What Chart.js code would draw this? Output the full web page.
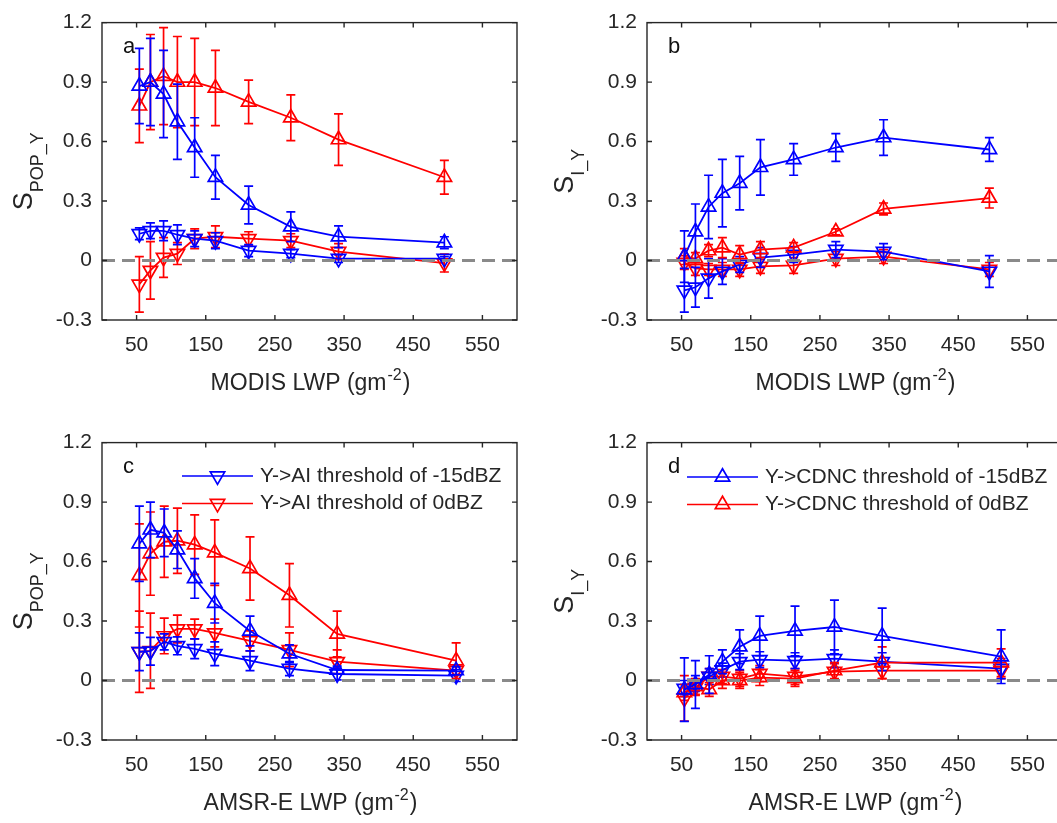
<!DOCTYPE html>
<html>
<head>
<meta charset="utf-8">
<script src="https://cdn.jsdelivr.net/npm/chart.js@4.4.1/dist/chart.umd.min.js"></script>
<style>
html, body { margin: 0; padding: 0; background: #fff; overflow: hidden; }
#wrap { position: relative; width: 1057px; height: 823px; overflow: hidden; }
canvas { position: absolute; }
</style>
</head>
<body>
<div id="wrap">
  <canvas id="pa" width="540" height="410" style="left:0;top:0"></canvas>
  <canvas id="pb" width="540" height="410" style="left:545px;top:0"></canvas>
  <canvas id="pc" width="540" height="410" style="left:0;top:420px"></canvas>
  <canvas id="pd" width="540" height="410" style="left:545px;top:420px"></canvas>
</div>
<script>
// LWP bins (gm-2)
const lwpModis = [54, 70, 89, 109, 134, 164, 212, 273, 342, 495];
const lwpAmsr = [54, 70, 90, 109, 134, 163, 214, 271, 340, 512];
const xTicks = [50, 150, 250, 350, 450, 550];
const yTicks = [-0.3, 0, 0.3, 0.6, 0.9, 1.2];

// a: S_POP_Y vs MODIS LWP
const popModisAi15 = [0.135, 0.15, 0.15, 0.13, 0.11, 0.10, 0.05, 0.035, 0.01, 0.01];
const popModisAi15Err = [0.03, 0.04, 0.05, 0.05, 0.04, 0.04, 0.03, 0.02, 0.02, 0.01];
const popModisAi0 = [-0.12, -0.05, 0.015, 0.035, 0.11, 0.12, 0.11, 0.10, 0.045, -0.013];
const popModisAi0Err = [0.14, 0.145, 0.10, 0.055, 0.05, 0.055, 0.035, 0.035, 0.04, 0.045];
const popModisCdnc15 = [0.88, 0.90, 0.84, 0.70, 0.57, 0.42, 0.28, 0.17, 0.12, 0.09];
const popModisCdnc15Err = [0.19, 0.22, 0.22, 0.19, 0.15, 0.11, 0.095, 0.075, 0.055, 0.03];
const popModisCdnc0 = [0.78, 0.90, 0.93, 0.90, 0.90, 0.87, 0.80, 0.72, 0.61, 0.42];
const popModisCdnc0Err = [0.185, 0.24, 0.245, 0.23, 0.22, 0.19, 0.11, 0.115, 0.13, 0.085];

// b: S_I_Y vs MODIS LWP
const iModisAi15 = [-0.15, -0.135, -0.09, -0.055, -0.02, 0.015, 0.03, 0.055, 0.045, -0.055];
const iModisAi15Err = [0.11, 0.10, 0.10, 0.065, 0.04, 0.05, 0.04, 0.04, 0.04, 0.08];
const iModisAi0 = [-0.01, -0.04, -0.045, -0.045, -0.045, -0.03, -0.025, 0.01, 0.02, -0.045];
const iModisAi0Err = [0.035, 0.035, 0.03, 0.035, 0.035, 0.035, 0.04, 0.035, 0.035, 0.035];
const iModisCdnc15 = [0.02, 0.145, 0.27, 0.34, 0.39, 0.47, 0.51, 0.57, 0.62, 0.56];
const iModisCdnc15Err = [0.13, 0.14, 0.16, 0.17, 0.135, 0.14, 0.08, 0.07, 0.09, 0.06];
const iModisCdnc0 = [0.02, 0.01, 0.05, 0.065, 0.03, 0.055, 0.065, 0.145, 0.26, 0.315];
const iModisCdnc0Err = [0.04, 0.03, 0.03, 0.05, 0.045, 0.04, 0.025, 0.015, 0.03, 0.05];

// c: S_POP_Y vs AMSR-E LWP
const popAmsrAi15 = [0.145, 0.148, 0.195, 0.175, 0.16, 0.135, 0.10, 0.06, 0.033, 0.025];
const popAmsrAi15Err = [0.095, 0.07, 0.04, 0.045, 0.05, 0.06, 0.05, 0.035, 0.03, 0.03];
const popAmsrAi0 = [0.145, 0.15, 0.225, 0.26, 0.26, 0.24, 0.20, 0.155, 0.095, 0.05];
const popAmsrAi0Err = [0.205, 0.19, 0.09, 0.07, 0.05, 0.07, 0.05, 0.085, 0.06, 0.02];
const popAmsrCdnc15 = [0.69, 0.76, 0.745, 0.66, 0.515, 0.39, 0.25, 0.135, 0.053, 0.05];
const popAmsrCdnc15Err = [0.19, 0.14, 0.12, 0.095, 0.10, 0.10, 0.075, 0.045, 0.02, 0.02];
const popAmsrCdnc0 = [0.53, 0.64, 0.70, 0.705, 0.685, 0.645, 0.565, 0.43, 0.235, 0.10];
const popAmsrCdnc0Err = [0.26, 0.21, 0.18, 0.165, 0.15, 0.165, 0.16, 0.16, 0.115, 0.09];

// d: S_I_Y vs AMSR-E LWP
const iAmsrAi15 = [-0.04, -0.015, 0.02, 0.053, 0.095, 0.105, 0.10, 0.11, 0.095, 0.06];
const iAmsrAi15Err = [0.04, 0.04, 0.04, 0.035, 0.04, 0.04, 0.04, 0.045, 0.045, 0.05];
const iAmsrAi0 = [-0.09, -0.035, 0.02, 0.02, 0.01, 0.035, 0.02, 0.045, 0.05, 0.05];
const iAmsrAi0Err = [0.115, 0.04, 0.04, 0.035, 0.04, 0.04, 0.04, 0.04, 0.04, 0.04];
const iAmsrCdnc15 = [-0.046, -0.02, 0.03, 0.095, 0.17, 0.225, 0.25, 0.27, 0.225, 0.12];
const iAmsrCdnc15Err = [0.16, 0.12, 0.095, 0.06, 0.085, 0.10, 0.125, 0.135, 0.14, 0.135];
const iAmsrCdnc0 = [-0.06, -0.03, -0.045, 0.0, 0.0, 0.015, 0.01, 0.05, 0.09, 0.09];
const iAmsrCdnc0Err = [0.04, 0.04, 0.035, 0.04, 0.04, 0.04, 0.04, 0.04, 0.08, 0.07];

const FONT = '"Liberation Sans", Arial, sans-serif';
const INK = '#262626';
const BLUE = '#0000ff';
const RED = '#ff0000';

// marker triangle, same geometry as chart.js 'triangle'
function triangle(ctx, x, y, r, down) {
  const s = down ? -1 : 1;
  ctx.beginPath();
  ctx.moveTo(x, y - s * r);
  ctx.lineTo(x + r * Math.sin(2 * Math.PI / 3), y + s * r / 2);
  ctx.lineTo(x - r * Math.sin(2 * Math.PI / 3), y + s * r / 2);
  ctx.closePath();
  ctx.stroke();
}

const matlabLook = {
  id: 'matlabLook',
  afterDatasetDraw(chart, args) {
    // error bars of this series
    const ds = chart.data.datasets[args.index];
    const xs = chart.scales.x, ys = chart.scales.y;
    const ctx = chart.ctx;
    ctx.save();
    ctx.strokeStyle = ds.borderColor;
    ctx.lineWidth = 1.7;
    ds.data.forEach((p, i) => {
      const e = ds.errors[i];
      const px = xs.getPixelForValue(p.x);
      const y1 = ys.getPixelForValue(p.y + e);
      const y2 = ys.getPixelForValue(p.y - e);
      ctx.beginPath();
      ctx.moveTo(px, y1); ctx.lineTo(px, y2);
      ctx.moveTo(px - 4.5, y1); ctx.lineTo(px + 4.5, y1);
      ctx.moveTo(px - 4.5, y2); ctx.lineTo(px + 4.5, y2);
      ctx.stroke();
    });
    ctx.restore();
  },
  afterDatasetsDraw(chart) {
    const o = chart.options.plugins.matlabLook;
    const ctx = chart.ctx;
    const a = chart.chartArea;
    const xs = chart.scales.x, ys = chart.scales.y;
    ctx.save();
    // zero line
    ctx.strokeStyle = '#8a8a8a';
    ctx.lineWidth = 3;
    ctx.setLineDash([13, 7]);
    const y0 = ys.getPixelForValue(0);
    ctx.beginPath(); ctx.moveTo(a.left, y0); ctx.lineTo(a.right, y0); ctx.stroke();
    ctx.setLineDash([]);

    // box + inward ticks
    ctx.strokeStyle = INK;
    ctx.lineWidth = 1.4;
    ctx.strokeRect(a.left, a.top, a.right - a.left, a.bottom - a.top);
    ctx.beginPath();
    xTicks.forEach(v => {
      const px = xs.getPixelForValue(v);
      ctx.moveTo(px, a.bottom); ctx.lineTo(px, a.bottom - 5);
      ctx.moveTo(px, a.top); ctx.lineTo(px, a.top + 5);
    });
    yTicks.forEach(v => {
      const py = ys.getPixelForValue(v);
      ctx.moveTo(a.left, py); ctx.lineTo(a.left + 5, py);
      ctx.moveTo(a.right, py); ctx.lineTo(a.right - 5, py);
    });
    ctx.stroke();

    // panel letter
    ctx.fillStyle = '#111';
    ctx.font = '22px ' + FONT;
    ctx.textAlign = 'left';
    ctx.textBaseline = 'alphabetic';
    ctx.fillText(o.letter, a.left + 21, a.top + 30);

    // x axis title with superscript
    ctx.fillStyle = INK;
    const main = o.xTitle + ' (gm', sup = '-2', tail = ')';
    ctx.font = '23px ' + FONT;
    const wMain = ctx.measureText(main).width, wTail = ctx.measureText(tail).width;
    ctx.font = '16px ' + FONT;
    const wSup = ctx.measureText(sup).width;
    let x0 = (a.left + a.right) / 2 - (wMain + wSup + wTail) / 2;
    const yb = 390;
    ctx.font = '23px ' + FONT;
    ctx.fillText(main, x0, yb);
    ctx.font = '16px ' + FONT;
    ctx.fillText(sup, x0 + wMain + 1, yb - 10);
    ctx.font = '23px ' + FONT;
    ctx.fillText(tail, x0 + wMain + wSup + 2, yb);

    // y axis title S with subscript, rotated
    ctx.font = '27px ' + FONT;
    const wS = ctx.measureText('S').width;
    ctx.font = '18px ' + FONT;
    const wSub = ctx.measureText(o.ySub).width;
    ctx.translate(o.yTitleX, (a.top + a.bottom) / 2);
    ctx.rotate(-Math.PI / 2);
    const u0 = -(wS + wSub) / 2;
    ctx.font = '27px ' + FONT;
    ctx.fillText('S', u0, 0);
    ctx.font = '18px ' + FONT;
    ctx.fillText(o.ySub, u0 + wS, 11);
    ctx.setTransform(1, 0, 0, 1, 0, 0);

    // legend
    if (o.legend) {
      ctx.font = '21px ' + FONT;
      ctx.textBaseline = 'middle';
      ctx.lineWidth = 1.7;
      o.legend.items.forEach((it, k) => {
        const ly = o.legend.y + k * 27.5;
        ctx.strokeStyle = it.color;
        ctx.beginPath(); ctx.moveTo(o.legend.x, ly); ctx.lineTo(o.legend.x + 71, ly); ctx.stroke();
        triangle(ctx, o.legend.x + 35.5, ly, 8.3, it.down);
        ctx.fillStyle = INK;
        ctx.fillText(it.label, o.legend.x + 78, ly);
      });
    }
    ctx.restore();
  }
};

function series(xs, ys, errs, color, down) {
  return {
    data: xs.map((x, i) => ({ x: x, y: ys[i] })),
    errors: errs,
    borderColor: color,
    borderWidth: 1.8,
    pointStyle: 'triangle',
    rotation: down ? 180 : 0,
    pointRadius: 8.3,
    pointBorderWidth: 1.7,
    pointBackgroundColor: 'rgba(0,0,0,0)',
    pointBorderColor: color,
    fill: false,
    tension: 0
  };
}

const legendAi = { x: 182, y: 56, items: [
  { label: 'Y->AI threshold of -15dBZ', color: BLUE, down: true },
  { label: 'Y->AI threshold of 0dBZ', color: RED, down: true }
]};
const legendCdnc = { x: 142, y: 57, items: [
  { label: 'Y->CDNC threshold of -15dBZ', color: BLUE, down: false },
  { label: 'Y->CDNC threshold of 0dBZ', color: RED, down: false }
]};

function makePanel(id, xs, sets, letter, xTitle, ySub, yTitleX, legend) {
  new Chart(document.getElementById(id), {
    type: 'line',
    data: { datasets: [
      series(xs, sets[0], sets[1], BLUE, false),
      series(xs, sets[2], sets[3], RED, false),
      series(xs, sets[4], sets[5], BLUE, true),
      series(xs, sets[6], sets[7], RED, true)
    ]},
    options: {
      responsive: false,
      animation: false,
      layout: { padding: { left: 0, top: 17, right: 23, bottom: 0 } },
      plugins: {
        legend: { display: false },
        tooltip: { enabled: false },
        matlabLook: { letter: letter, xTitle: xTitle, ySub: ySub, yTitleX: yTitleX, legend: legend }
      },
      scales: {
        x: {
          type: 'linear', min: 0, max: 600,
          afterBuildTicks: s => { s.ticks = xTicks.map(v => ({ value: v })); },
          afterFit: s => { s.height = 90; },
          grid: { display: false, drawTicks: false },
          border: { display: false },
          ticks: { color: INK, font: { family: FONT, size: 21 }, padding: 13, maxRotation: 0, callback: v => String(v) }
        },
        y: {
          type: 'linear', min: -0.3, max: 1.2,
          afterBuildTicks: s => { s.ticks = yTicks.map(v => ({ value: v })); },
          afterFit: s => { s.width = 102; },
          grid: { display: false, drawTicks: false },
          border: { display: false },
          ticks: { color: INK, font: { family: FONT, size: 21 }, padding: 10, callback: v => String(Math.round(v * 10) / 10) }
        }
      }
    },
    plugins: [matlabLook]
  });
}

makePanel('pa', lwpModis, [popModisCdnc15, popModisCdnc15Err, popModisCdnc0, popModisCdnc0Err,
  popModisAi15, popModisAi15Err, popModisAi0, popModisAi0Err], 'a', 'MODIS LWP', 'POP_Y', 32, null);
makePanel('pb', lwpModis, [iModisCdnc15, iModisCdnc15Err, iModisCdnc0, iModisCdnc0Err,
  iModisAi15, iModisAi15Err, iModisAi0, iModisAi0Err], 'b', 'MODIS LWP', 'I_Y', 28, null);
makePanel('pc', lwpAmsr, [popAmsrCdnc15, popAmsrCdnc15Err, popAmsrCdnc0, popAmsrCdnc0Err,
  popAmsrAi15, popAmsrAi15Err, popAmsrAi0, popAmsrAi0Err], 'c', 'AMSR-E LWP', 'POP_Y', 32, legendAi);
makePanel('pd', lwpAmsr, [iAmsrCdnc15, iAmsrCdnc15Err, iAmsrCdnc0, iAmsrCdnc0Err,
  iAmsrAi15, iAmsrAi15Err, iAmsrAi0, iAmsrAi0Err], 'd', 'AMSR-E LWP', 'I_Y', 28, legendCdnc);
</script>
</body>
</html>
